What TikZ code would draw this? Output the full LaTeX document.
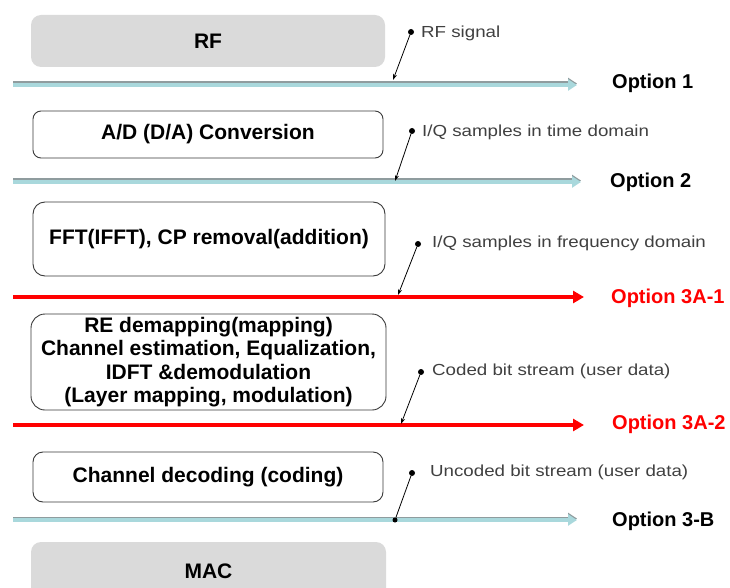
\documentclass[tikz,border=0pt]{standalone}
\usepackage{fontspec}
\setmainfont{Liberation Sans}
\newfontfamily\sigfont[FakeStretch=1.17]{Liberation Sans}
\usetikzlibrary{arrows.meta,positioning}
\definecolor{busblue}{HTML}{A9D8DC}
\definecolor{busshade}{HTML}{8F9C9E}
\definecolor{optred}{HTML}{FF0000}
\definecolor{boxgray}{HTML}{DADADA}
\definecolor{rimgray}{HTML}{3A3A3A}

\begin{document}
\begin{tikzpicture}[
  x=1pt, y=-1pt,
  font=\bfseries\fontsize{20}{23.5}\selectfont,
  layer/.style={rounded corners=10pt, align=center, inner sep=2pt, font=\bfseries\fontsize{21}{23.5}\selectfont},
  phybox/.style={layer, draw=rimgray, line width=0.9pt, fill=white},
  endbox/.style={layer, fill=boxgray},
  bluebus/.style={draw=busblue, line width=4pt, -{Triangle[width=11pt,length=9pt]}},
  busshadow/.style={draw=busshade, line width=4pt, -{Triangle[width=11pt,length=9pt]}},
  redbus/.style={draw=optred, line width=4pt, -{Triangle[width=12pt,length=11pt]}},
  optlabel/.style={anchor=west, inner sep=0pt},
  sig/.style={font=\sigfont\fontsize{16}{18}\selectfont, text=black!75, anchor=west, inner sep=0pt},
  dot/.style={circle, fill=black, inner sep=0pt, minimum size=6pt},
  ptr/.style={line width=0.8pt, -{Stealth[length=6pt,width=4pt]}}
]
\useasboundingbox (0,0) rectangle (730,588);

% protocol layers
\node[endbox, minimum width=354pt, minimum height=52pt] (rf) at (208,41) {RF};
\node[phybox, minimum width=350pt, minimum height=47pt, rounded corners=8pt] (adc) at (208,134.5) {A/D (D/A) Conversion};
\node[phybox, minimum width=352pt, minimum height=74pt, rounded corners=12pt] (fft) at (209,239) {FFT(IFFT), CP removal(addition)};
\node[phybox, minimum width=355pt, minimum height=96pt, rounded corners=14pt] (re) at (208.5,362)
  {RE demapping(mapping)\\Channel estimation, Equalization,\\IDFT \&demodulation\\(Layer mapping, modulation)};
\node[phybox, minimum width=350pt, minimum height=50pt] (chdec) at (208,477) {Channel decoding (coding)};
\node[endbox, minimum width=355pt, minimum height=58pt] (mac) at (208.5,571) {MAC};

% split points
\coordinate (o1s) at (13,85);    \coordinate (o1e) at (577,85);
\coordinate (o2s) at (13,182);   \coordinate (o2e) at (581,182);
\coordinate (o3s) at (13,297);   \coordinate (o3e) at (584,297);
\coordinate (o4s) at (13,425);   \coordinate (o4e) at (584,425);
\coordinate (o5s) at (13,520);   \coordinate (o5e) at (577,520);

\foreach \s/\e in {o1s/o1e, o2s/o2e, o5s/o5e} {
  \draw[busshadow] ([yshift=1.5pt]\s) -- ([yshift=1.5pt]\e);
  \draw[bluebus] (\s) -- (\e);
}
\draw[redbus] (o3s) -- (o3e);
\draw[redbus] (o4s) -- (o4e);

\node[optlabel] (opt1) at (612,83) {Option 1};
\node[optlabel] (opt2) at (610,182) {Option 2};
\node[optlabel, text=optred] (opt3a1) at (611,298) {Option 3A-1};
\node[optlabel, text=optred] (opt3a2) at (612,424) {Option 3A-2};
\node[optlabel] (opt3b) at (612,521) {Option 3-B};

% signal pointers
\node[dot] (p1) at (411,32) {};
\coordinate (t1) at (393,80);
\draw[ptr] (p1) -- (t1);
\node[sig] (s1) at (421,33) {RF signal};

\node[dot] (p2) at (412,131) {};
\coordinate (t2) at (395,181);
\draw[ptr] (p2) -- (t2);
\node[sig] (s2) at (422,132) {I/Q samples in time domain};

\node[dot] (p3) at (418,244) {};
\coordinate (t3) at (398,295);
\draw[ptr] (p3) -- (t3);
\node[sig] (s3) at (432,243) {I/Q samples in frequency domain};

\node[dot] (p4) at (421,372) {};
\coordinate (t4) at (401,424);
\draw[ptr] (p4) -- (t4);
\node[sig] (s4) at (432,371) {Coded bit stream (user data)};

\node[dot] (p5) at (412,473) {};
\node[dot, minimum size=5pt] (q5) at (395,520) {};
\draw[line width=0.8pt] (p5) -- (q5);
\node[sig] (s5) at (430,472) {Uncoded bit stream (user data)};

\end{tikzpicture}
\end{document}
